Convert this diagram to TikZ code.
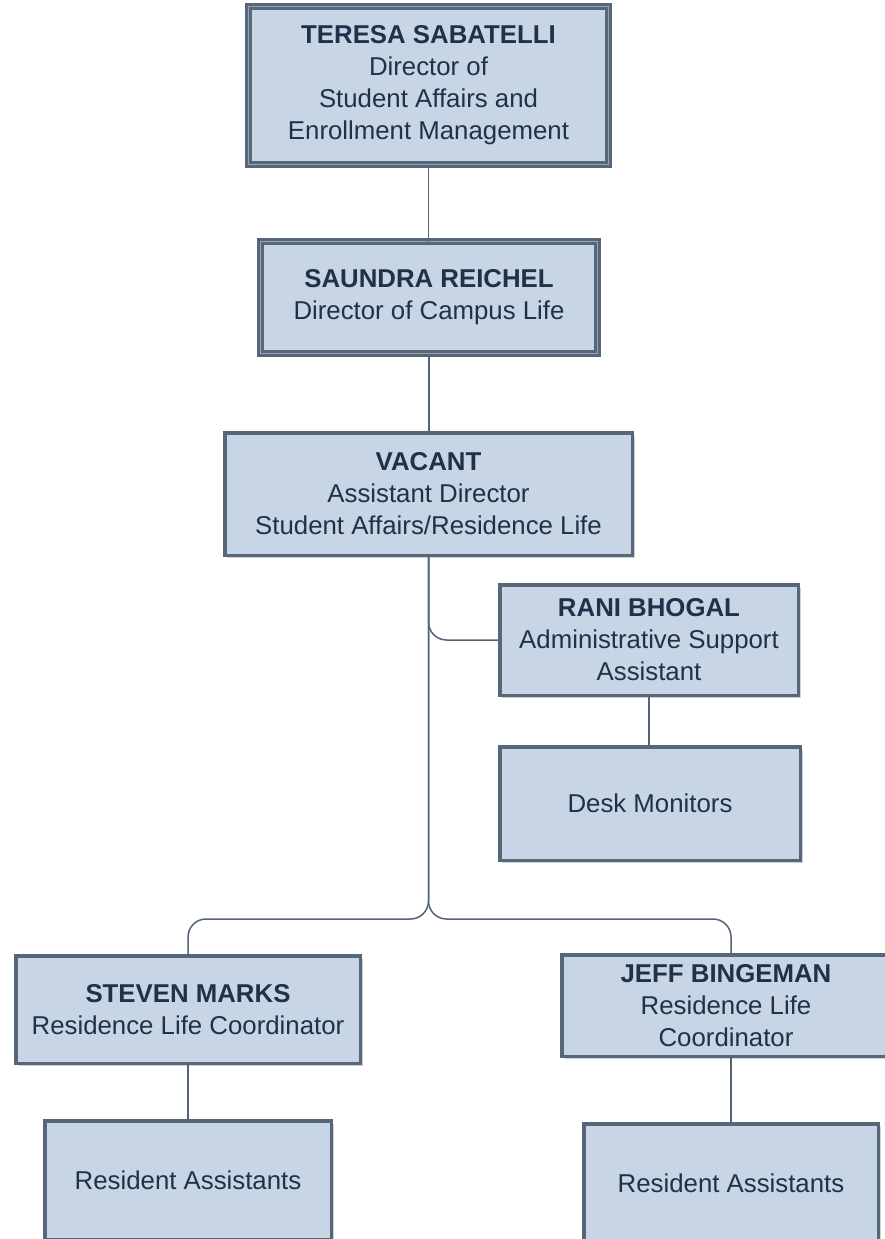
\documentclass[tikz,border=0pt]{standalone}
\usepackage{fontspec}
\setmainfont{Liberation Sans}
\usetikzlibrary{shadows}
\definecolor{boxfill}{HTML}{C7D5E4}
\definecolor{boxline}{HTML}{56677A}
\definecolor{boxtext}{HTML}{1F3249}
\definecolor{linkline}{HTML}{52637A}

\begin{document}
\begin{tikzpicture}[x=1pt, y=-1pt, outer sep=0pt,
    unit/.style={draw=boxline, fill=boxfill, text=boxtext, line width=3.5pt, inner sep=0pt, align=center,
      font=\fontsize{25.8}{32}\selectfont,
      drop shadow={shadow xshift=2.5pt, shadow yshift=-3pt, fill=black!40, opacity=.45}},
    head/.style={unit, line width=2.8pt, double=boxline!60!white, double distance=1.4pt},
    link/.style={draw=linkline, line width=1.5pt, rounded corners=18pt}]
  \useasboundingbox (0,0) rectangle (884,1239);
  \node[head, minimum width=360, minimum height=158] (teresa) at (428.5,85.5)
    {\textbf{TERESA SABATELLI}\\Director of\\Student Affairs and\\Enrollment Management};
  \node[head, minimum width=337, minimum height=112] (saundra) at (429,297.5)
    {\textbf{SAUNDRA REICHEL}\\Director of Campus Life};
  \node[unit, minimum width=407.5, minimum height=122.5] (vacant) at (428.5,494)
    {\textbf{VACANT}\\Assistant Director\\Student Affairs/Residence Life};
  \node[unit, minimum width=298.5, minimum height=110.5] (rani) at (649,640)
    {\textbf{RANI BHOGAL}\\Administrative Support\\Assistant};
  \node[unit, minimum width=300.5, minimum height=113.5] (desk) at (650,803.5)
    {Desk Monitors};
  \node[unit, minimum width=344.5, minimum height=107.5] (steven) at (188,1009.5)
    {\textbf{STEVEN MARKS}\\Residence Life Coordinator};
  \node[unit, minimum width=328, minimum height=101.5] (jeff) at (726,1005.5)
    {\textbf{JEFF BINGEMAN}\\Residence Life\\Coordinator};
  \node[unit, minimum width=286.5, minimum height=118.5] (ras) at (188,1180)
    {Resident Assistants};
  \node[unit, minimum width=294.5, minimum height=118.5] (raj) at (731,1183)
    {Resident Assistants};
  \coordinate (fork) at (428.5,919);
  \draw[link] (teresa.south) -- (teresa.south |- saundra.north);
  \draw[link] (saundra.south) -- (saundra.south |- vacant.north);
  \draw[link] (vacant.south) |- (rani.west);
  \draw[link] (vacant.south) -- (fork) -| (steven.north);
  \draw[link] (vacant.south) -- (fork) -| (raj.north |- jeff.north);
  \draw[link] (rani.south) -- (rani.south |- desk.north);
  \draw[link] (steven.south) -- (ras.north);
  \draw[link] (jeff.south -| raj.north) -- (raj.north);
\end{tikzpicture}
\end{document}
